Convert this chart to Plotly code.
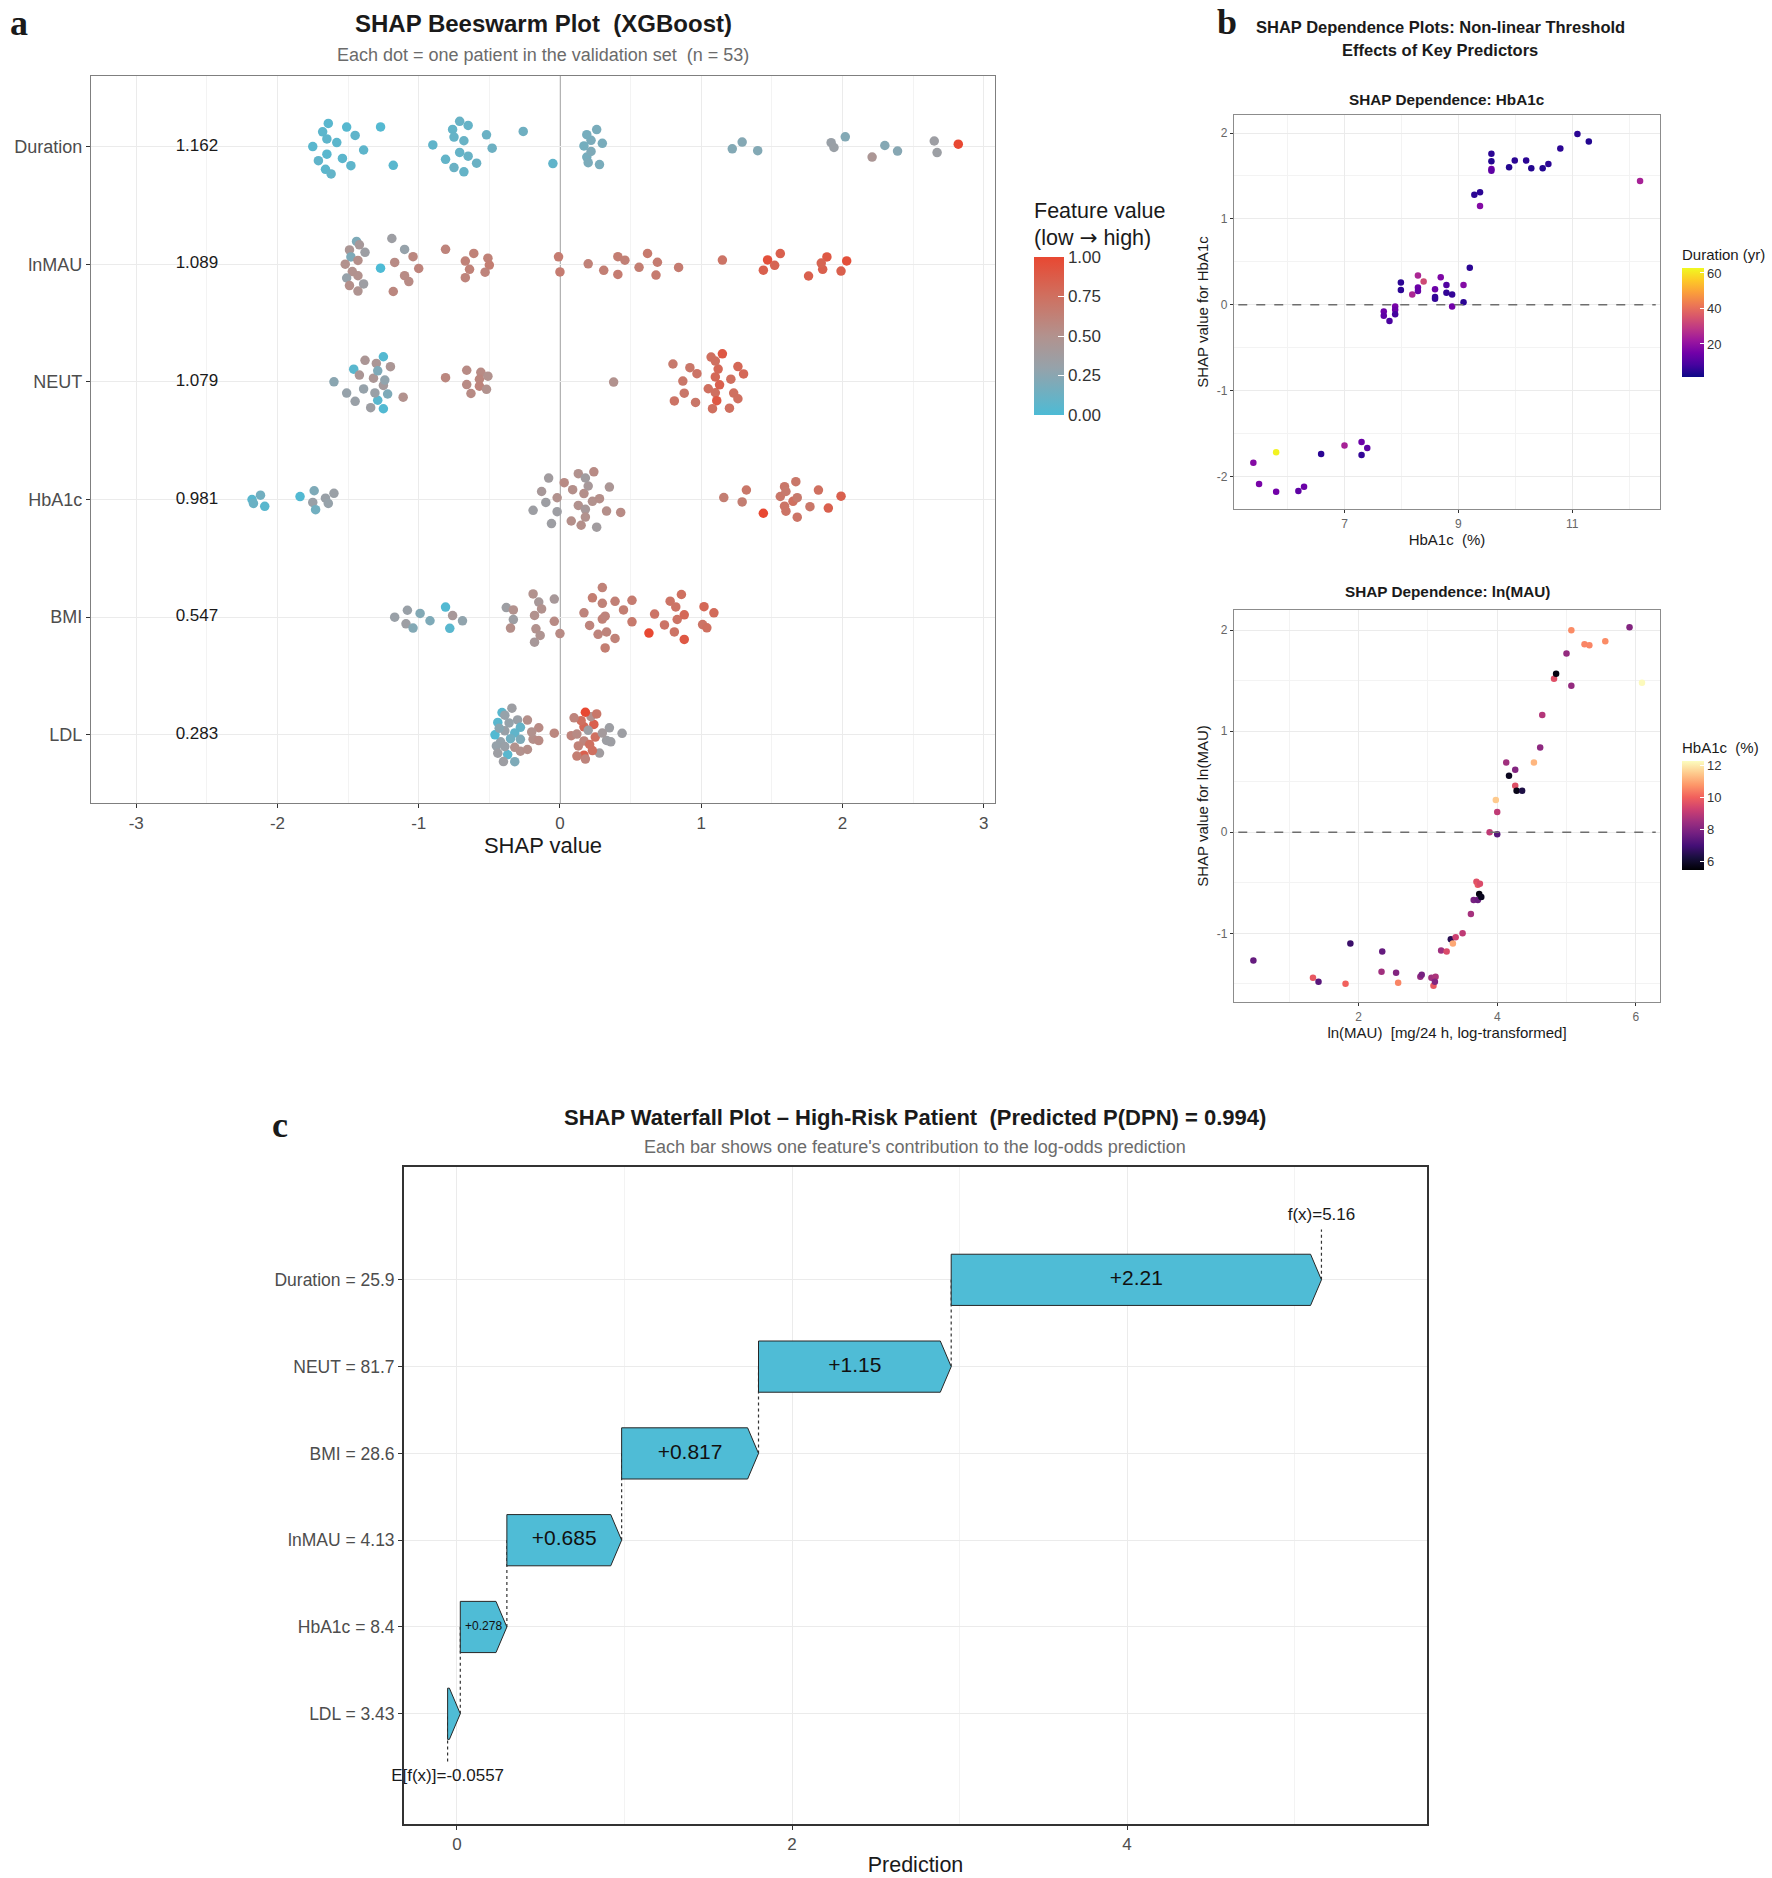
import numpy as np
import plotly.graph_objects as go

W, H = 1772, 1878

# ---------------- panel a : beeswarm ----------------
features = ["Duration", "lnMAU", "NEUT", "HbA1c", "BMI", "LDL"]
importance = [1.162, 1.089, 1.079, 0.981, 0.547, 0.283]
shap_ticks = [-3, -2, -1, 0, 1, 2, 3]
shap_ticktext = ["-3", "-2", "-1", "0", "1", "2", "3"]

shap_duration = [-1.64, -1.68, -1.51, -1.27, -1.65, -1.45, -1.58, -1.75, -1.39, -1.65, -1.54, -1.71, -1.48, -1.18, -1.66, -1.62,
                 -0.71, -0.65, -0.76, -0.75, -0.52, -0.90, -0.68, -0.48, -0.71, -0.65, -0.81, -0.59, -0.75, -0.68,
                 -0.26, -0.05,
                 0.26, 0.19, 0.22, 0.17, 0.30, 0.22, 0.19, 0.20, 0.28,
                 1.22, 1.29, 1.40,
                 1.92, 1.94, 2.02, 2.21, 2.30, 2.39, 2.65, 2.67, 2.82]
fv_duration = [0.05, 0.06, 0.04, 0.03, 0.07, 0.08, 0.06, 0.05, 0.07, 0.05, 0.06, 0.08, 0.07, 0.05, 0.06, 0.09,
               0.10, 0.11, 0.09, 0.12, 0.12, 0.08, 0.10, 0.13, 0.11, 0.10, 0.09, 0.12, 0.10, 0.11,
               0.14, 0.08,
               0.18, 0.17, 0.19, 0.16, 0.18, 0.20, 0.17, 0.19, 0.18,
               0.22, 0.23, 0.22,
               0.32, 0.33, 0.22, 0.45, 0.23, 0.24, 0.35, 0.34, 1.00]

shap_lnmau = [-1.44, -1.19, -1.49, -1.42, -1.38, -1.48, -1.43, -1.52, -1.27, -1.17, -1.10, -1.04, -1.00, -1.47, -1.43,
              -1.51, -1.10, -1.07, -1.49, -1.39, -1.43, -1.18,
              -0.81, -0.61, -0.67, -0.51, -0.50, -0.64, -0.53, -0.67,
              -0.01, 0.00,
              0.20, 0.31, 0.41, 0.46, 0.41, 0.56, 0.62, 0.69, 0.68, 0.84,
              1.15, 1.47, 1.56, 1.44, 1.52,
              1.76, 1.86, 1.89, 1.85, 1.99, 2.03]
fv_lnmau = [0.20, 0.35, 0.45, 0.42, 0.35, 0.20, 0.48, 0.50, 0.00, 0.55, 0.55, 0.58, 0.60, 0.50, 0.52,
            0.30, 0.30, 0.55, 0.52, 0.35, 0.50, 0.58,
            0.60, 0.62, 0.60, 0.62, 0.65, 0.62, 0.60, 0.62,
            0.66, 0.66,
            0.62, 0.64, 0.65, 0.63, 0.66, 0.65, 0.68, 0.66, 0.67, 0.66,
            0.72, 0.95, 0.85, 0.85, 0.82,
            0.85, 0.85, 0.90, 0.82, 0.85, 0.95]

shap_neut = [-1.60, -1.46, -1.38, -1.30, -1.25, -1.20, -1.42, -1.29, -1.32, -1.25, -1.51, -1.39, -1.31, -1.22, -1.45,
             -1.29, -1.34, -1.25, -1.11, -1.24,
             -0.81, -0.66, -0.56, -0.57, -0.51, -0.66, -0.57, -0.52, -0.63,
             0.38,
             0.80, 0.92, 0.97, 0.87, 0.88, 0.81, 0.96, 1.05, 1.07, 1.10, 1.15, 1.12, 1.10, 1.13, 1.10, 1.11,
             1.08, 1.21, 1.26, 1.30, 1.23, 1.26, 1.20]
fv_neut = [0.25, 0.05, 0.45, 0.45, 0.40, 0.45, 0.45, 0.05, 0.45, 0.03, 0.30, 0.30, 0.32, 0.20, 0.32,
           0.20, 0.35, 0.02, 0.50, 0.28,
           0.58, 0.55, 0.55, 0.58, 0.50, 0.55, 0.60, 0.50, 0.55,
           0.50,
           0.68, 0.70, 0.72, 0.70, 0.70, 0.72, 0.70, 0.75, 0.75, 0.80, 0.90, 0.80, 0.75, 0.85, 0.75, 0.90,
           0.75, 0.75, 0.80, 0.80, 0.75, 0.75, 0.75]

shap_hba1c = [-2.18, -2.12, -2.17, -2.09,
              -1.84, -1.74, -1.75, -1.66, -1.60, -1.64, -1.73,
              -0.08, -0.13, -0.19, -0.10, -0.06, -0.02, -0.02, 0.03, 0.09, 0.08, 0.13, 0.18, 0.24, 0.17, 0.20,
              0.13, 0.18, 0.18, 0.15, 0.23, 0.28, 0.33, 0.35, 0.26, 0.43,
              1.16, 1.29, 1.32, 1.44, 1.59, 1.60, 1.56, 1.59, 1.60, 1.65, 1.68, 1.67, 1.68, 1.77, 1.83, 1.90, 1.99]
fv_hba1c = [0.05, 0.15, 0.12, 0.05,
            0.02, 0.20, 0.32, 0.32, 0.33, 0.30, 0.15,
            0.38, 0.42, 0.35, 0.35, 0.35, 0.50, 0.35, 0.55, 0.52, 0.52, 0.50, 0.42, 0.55, 0.52, 0.42,
            0.50, 0.38, 0.50, 0.52, 0.50, 0.52, 0.52, 0.45, 0.38, 0.55,
            0.65, 0.65, 0.70, 1.00, 0.72, 0.72, 0.70, 0.70, 0.68, 0.75, 0.72, 0.70, 0.68, 0.70, 0.75, 0.85, 0.85]

shap_bmi = [-1.17, -1.08, -1.09, -1.04, -0.99, -0.92, -0.81, -0.78, -0.76, -0.69,
            -0.38, -0.33, -0.33, -0.35, -0.19, -0.15, -0.13, -0.18, -0.17, -0.14, -0.18, -0.04, -0.04, 0.00,
            0.30, 0.23, 0.30, 0.39, 0.51, 0.17, 0.32, 0.30, 0.45, 0.51, 0.21, 0.27, 0.33, 0.39, 0.32,
            0.86, 0.78, 0.82, 0.67, 0.88, 0.83, 0.74, 0.81, 0.88, 0.63, 1.02, 1.09, 1.01, 1.04]
fv_bmi = [0.32, 0.32, 0.35, 0.22, 0.22, 0.20, 0.02, 0.05, 0.42, 0.28,
          0.35, 0.50, 0.35, 0.52, 0.50, 0.42, 0.50, 0.42, 0.50, 0.48, 0.50, 0.55, 0.42, 0.55,
          0.62, 0.65, 0.62, 0.63, 0.68, 0.60, 0.65, 0.62, 0.65, 0.66, 0.60, 0.60, 0.60, 0.62, 0.60,
          0.75, 0.72, 0.72, 0.72, 0.90, 0.72, 0.72, 0.72, 0.80, 1.00, 0.80, 0.78, 0.72, 0.75]

shap_ldl = [-0.37, -0.42, -0.44, -0.39, -0.32, -0.28, -0.23, -0.15, -0.19, -0.46, -0.41, -0.34, -0.30, -0.15,
            -0.28, -0.23, -0.20, -0.45, -0.39, -0.32, -0.44, -0.39, -0.28, -0.32, -0.40, -0.36, -0.43, -0.35,
            -0.04, 0.08, 0.17, 0.24, 0.12, 0.22, 0.17, 0.20, 0.28, 0.35, 0.44, 0.33, 0.36, 0.17, 0.23, 0.12,
            0.13, 0.21, 0.25, 0.18, 0.15, 0.18, 0.10, 0.26, 0.30]
fv_ldl = [0.05, 0.30, 0.05, 0.32, 0.20, 0.50, 0.52, 0.55, 0.52, 0.02, 0.05, 0.35, 0.32, 0.55,
          0.10, 0.52, 0.50, 0.30, 0.32, 0.08, 0.35, 0.30, 0.20, 0.50, 0.35, 0.30, 0.25, 0.15,
          0.58, 0.60, 0.85, 0.85, 0.65, 0.50, 0.80, 0.35, 0.38, 0.35, 0.35, 0.35, 0.35, 0.60, 0.75, 0.55,
          0.62, 0.75, 0.75, 1.00, 0.75, 0.60, 0.60, 0.70, 0.40]

shap_rows = [shap_duration, shap_lnmau, shap_neut, shap_hba1c, shap_bmi, shap_ldl]
fv_rows = [fv_duration, fv_lnmau, fv_neut, fv_hba1c, fv_bmi, fv_ldl]
fv_ticks = [0, 0.25, 0.5, 0.75, 1.0]

# ---------------- panel b : dependence plots ----------------
hba1c_x = [5.40, 5.50, 5.80, 5.80, 6.19, 6.29, 6.59, 7.00, 7.30, 7.30, 7.40, 7.69, 7.69, 7.79, 7.89, 7.89, 7.89,
           7.99, 7.99, 8.19, 8.29, 8.29, 8.29, 8.39, 8.59, 8.59, 8.59, 8.69, 8.79, 8.79, 8.89, 8.89, 9.09, 9.09,
           9.20, 9.28, 9.38, 9.38, 9.58, 9.58, 9.58, 9.58, 9.89, 9.99, 10.19, 10.28, 10.48, 10.58, 10.79, 11.09,
           11.29, 12.19]
hba1c_shap = [-1.84, -2.09, -1.72, -2.18, -2.17, -2.12, -1.74, -1.64, -1.60, -1.75, -1.67, -0.08, -0.13, -0.19,
              -0.02, -0.06, -0.11, 0.26, 0.17, 0.12, 0.34, 0.20, 0.16, 0.27, 0.18, 0.09, 0.07, 0.32, 0.23, 0.14,
              0.12, -0.02, 0.23, 0.03, 0.43, 1.28, 1.31, 1.15, 1.76, 1.67, 1.58, 1.56, 1.60, 1.68, 1.68, 1.59,
              1.59, 1.64, 1.82, 1.99, 1.90, 1.44]
hba1c_duration = [18, 16, 62, 15, 12, 14, 5, 24, 14, 6, 12, 14, 12, 9, 16, 14, 8,
                  5, 5, 25, 25, 14, 13, 33, 14, 6, 6, 17, 10, 6, 6, 15, 18, 5,
                  5, 5, 5, 18, 5, 4, 15, 12, 4, 5, 5, 4, 4, 5, 5, 5,
                  4, 24]
duration_ticks = [20, 40, 60]
shap_b1_ticks = [-2, -1, 0, 1, 2]
shap_b1_ticktext = ["-2", "-1", "0", "1", "2"]

lnmau_x = [0.48, 1.34, 1.42, 1.81, 1.88, 2.33, 2.34, 2.54, 2.57, 2.89, 2.91, 3.05, 3.11, 3.08, 3.10, 3.19, 3.27,
           3.33, 3.36, 3.40, 3.50, 3.62, 3.66, 3.70, 3.72, 3.75, 3.72, 3.74, 3.77, 3.89, 3.98, 4.00, 4.00, 4.13,
           4.17, 4.26, 4.26, 4.28, 4.36, 4.53, 4.62, 4.65, 4.82, 4.85, 5.00, 5.07, 5.07, 5.26, 5.33, 5.56, 5.91,
           6.09]
lnmau_shap = [-1.27, -1.44, -1.48, -1.50, -1.10, -1.38, -1.18, -1.39, -1.49, -1.43, -1.41, -1.44, -1.43, -1.52,
              -1.48, -1.17, -1.18, -1.06, -1.10, -1.04, -1.00, -0.81, -0.67, -0.49, -0.52, -0.51, -0.67, -0.61,
              -0.64, 0.00, 0.32, 0.20, -0.02, 0.69, 0.56, 0.46, 0.62, 0.41, 0.41, 0.69, 0.84, 1.16, 1.52, 1.57,
              1.77, 1.45, 2.00, 1.86, 1.85, 1.89, 2.03, 1.48]
lnmau_hba1c = [7.5, 9.8, 7.3, 10.0, 6.8, 8.5, 7.5, 8.0, 10.5, 8.3, 7.8, 8.5, 8.7, 9.8, 8.0, 8.5, 9.5,
               6.5, 11.0, 9.2, 9.0, 8.6, 7.8, 9.6, 9.8, 9.5, 7.6, 5.6, 5.8, 9.0, 11.5, 9.0, 7.3, 8.5,
               5.8, 9.6, 8.0, 5.7, 6.3, 11.2, 8.2, 8.8, 9.6, 5.6, 8.3, 8.3, 10.6, 10.5, 10.5, 10.6, 8.0,
               12.2]
hba1c_ticks = [6, 8, 10, 12]
shap_b2_ticks = [-1, 0, 1, 2]
shap_b2_ticktext = ["-1", "0", "1", "2"]

# ---------------- panel c : waterfall ----------------
wf_labels = ["Duration = 25.9", "NEUT = 81.7", "BMI = 28.6", "lnMAU = 4.13", "HbA1c = 8.4", "LDL = 3.43"]
wf_contrib = [2.21, 1.15, 0.817, 0.685, 0.278, 0.0757]
wf_text = ["+2.21", "+1.15", "+0.817", "+0.685", "+0.278", ""]
base_value = -0.0557
fx_value = 5.16


def vdc(n):
    out = []
    for i in range(1, n + 1):
        v, denom, k = 0.0, 1.0, i
        while k:
            denom *= 2
            k, r = divmod(k, 2)
            v += r / denom
        out.append(v)
    return np.array(out)


def quasirandom(x, width=0.27):
    # quasirandom (van der Corput) offsets scaled by local density
    x = np.asarray(x, float)
    n = len(x)
    q75, q25 = np.percentile(x, [75, 25])
    bw = 0.5 * 0.9 * min(x.std(ddof=1), (q75 - q25) / 1.34) * n ** -0.2
    d = np.exp(-0.5 * ((x[:, None] - x[None, :]) / bw) ** 2).sum(1)
    d = d / d.max()
    rank = np.argsort(np.argsort(x, kind="stable"), kind="stable")
    return (vdc(n)[rank] - 0.5) * 2 * width * d


def px(v):
    return v / W


def py(v):
    return 1 - v / H


GRID = "#EBEBEB"
MINOR = "#F3F3F3"
TICKC = "#4D4D4D"
FONT = "Liberation Sans, Arial, sans-serif"

fig = go.Figure()

# beeswarm points
bx, by, bc = [], [], []
for i, (sv, fv) in enumerate(zip(shap_rows, fv_rows)):
    row = len(features) - 1 - i
    off = quasirandom(sv)
    bx += list(sv)
    by += list(row + off)
    bc += list(fv)

bee_scale = [[0.0, "rgb(77,187,213)"], [0.3, "rgb(150,162,170)"], [0.5, "rgb(178,146,142)"],
             [0.75, "rgb(207,112,96)"], [1.0, "rgb(232,72,50)"]]
fig.add_trace(go.Scatter(
    x=bx, y=by, mode="markers", xaxis="x", yaxis="y", showlegend=False, hoverinfo="skip",
    marker=dict(size=9.5, color=bc, colorscale=bee_scale, cmin=0, cmax=1,
                colorbar=dict(x=px(1034), xanchor="left", y=py(257), yanchor="top",
                              lenmode="pixels", len=158, thickness=30, xpad=0, ypad=0,
                              outlinewidth=0, ticks="inside", ticklen=6, tickcolor="white",
                              tickvals=fv_ticks, tickformat=".2f",
                              tickfont=dict(size=17, color="#333333"))),
))

fig.add_trace(go.Scatter(
    x=[-2.57] * len(features), y=[len(features) - 1 - i for i in range(len(features))],
    text=[f"{v:.3f}" for v in importance], mode="text", xaxis="x", yaxis="y",
    textfont=dict(size=17, color="#1a1a1a"), showlegend=False, hoverinfo="skip",
))

# dependence plots
fig.add_trace(go.Scatter(
    x=hba1c_x, y=hba1c_shap, mode="markers", xaxis="x2", yaxis="y2", showlegend=False, hoverinfo="skip",
    marker=dict(size=6.5, color=hba1c_duration, colorscale="Plasma", cmin=1.4, cmax=62.8,
                colorbar=dict(x=px(1682), xanchor="left", y=py(268), yanchor="top",
                              lenmode="pixels", len=109, thickness=22, xpad=0, ypad=0,
                              outlinewidth=0, ticks="inside", ticklen=4, tickcolor="white",
                              tickvals=duration_ticks, tickfont=dict(size=13, color="#333333"))),
))
fig.add_trace(go.Scatter(
    x=lnmau_x, y=lnmau_shap, mode="markers", xaxis="x3", yaxis="y3", showlegend=False, hoverinfo="skip",
    marker=dict(size=6.5, color=lnmau_hba1c, colorscale="Magma", cmin=5.44, cmax=12.25,
                colorbar=dict(x=px(1682), xanchor="left", y=py(761), yanchor="top",
                              lenmode="pixels", len=109, thickness=22, xpad=0, ypad=0,
                              outlinewidth=0, ticks="inside", ticklen=4, tickcolor="white",
                              tickvals=hba1c_ticks, tickfont=dict(size=13, color="#333333"))),
))

# waterfall: rows from bottom (LDL) to top (Duration)
n = len(wf_labels)
contrib_up = wf_contrib[::-1]
text_up = wf_text[::-1]
cum = [base_value]
for c in contrib_up:
    cum.append(cum[-1] + c)

# connectors (under bars)
dash_style = "3px,3px"
fig.add_trace(go.Scatter(x=[base_value, base_value], y=[-0.55, 0], mode="lines", xaxis="x4", yaxis="y4",
                         line=dict(color="#333333", width=1.2, dash=dash_style), showlegend=False, hoverinfo="skip"))
for k in range(n - 1):
    fig.add_trace(go.Scatter(x=[cum[k + 1], cum[k + 1]], y=[k, k + 1], mode="lines", xaxis="x4", yaxis="y4",
                             line=dict(color="#333333", width=1.2, dash=dash_style),
                             showlegend=False, hoverinfo="skip"))
fig.add_trace(go.Scatter(x=[fx_value, fx_value], y=[n - 1, n - 0.42], mode="lines", xaxis="x4", yaxis="y4",
                         line=dict(color="#333333", width=1.2, dash=dash_style), showlegend=False, hoverinfo="skip"))

hh = 0.295
for k in range(n):
    s, e = cum[k], cum[k + 1]
    head = min(0.065, e - s)
    fig.add_trace(go.Scatter(
        x=[s, e - head, e, e - head, s, s], y=[k - hh, k - hh, k, k + hh, k + hh, k - hh],
        mode="lines", fill="toself", fillcolor="#4FBCD6", line=dict(color="#262626", width=1),
        xaxis="x4", yaxis="y4", showlegend=False, hoverinfo="skip"))
    if text_up[k]:
        big = (e - s) > 0.4
        fig.add_trace(go.Scatter(
            x=[(s + e) / 2], y=[k], text=[text_up[k]], mode="text", xaxis="x4", yaxis="y4",
            textfont=dict(size=21 if big else 12, color="#111111"), showlegend=False, hoverinfo="skip"))

fig.add_trace(go.Scatter(
    x=[fx_value, base_value], y=[n - 0.26, -0.73], text=[f"f(x)={fx_value}", f"E[f(x)]={base_value}"],
    mode="text", xaxis="x4", yaxis="y4", textfont=dict(size=17, color="#1a1a1a"), cliponaxis=False,
    showlegend=False, hoverinfo="skip"))


def frame(color):
    return dict(showline=True, mirror=True, linecolor=color, linewidth=1.3, zeroline=False,
                gridcolor=GRID, gridwidth=1.1, ticks="outside", tickcolor="#333333", ticklen=4,
                tickfont=dict(size=17, color=TICKC, family=FONT))


# axes
xa = frame("#7F7F7F")
xa.update(domain=[px(91), px(995)], range=[-3.32, 3.08], tickmode="array", tickvals=shap_ticks,
          ticktext=shap_ticktext, anchor="y",
          minor=dict(tick0=0, dtick=0.5, showgrid=True, gridcolor=MINOR, ticks=""),
          title=dict(text="SHAP value", font=dict(size=22, color="#1a1a1a"), standoff=4))
ya = frame("#7F7F7F")
ya.update(domain=[py(803), py(76)], range=[-0.58, 5.6], anchor="x",
          tickmode="array", tickvals=list(range(len(features))), ticktext=features[::-1],
          tickfont=dict(size=18, color=TICKC, family=FONT))

small_tick = dict(size=12, color="#666666", family=FONT)
xb1 = frame("#8C8C8C")
xb1.update(domain=[px(1234), px(1660)], range=[5.06, 12.54], tick0=7, dtick=2, anchor="y2", ticklen=3,
           tickfont=small_tick,
           minor=dict(tick0=6, dtick=2, showgrid=True, gridcolor=MINOR, ticks=""),
           title=dict(text="HbA1c\u00a0 (%)", font=dict(size=15, color="#1a1a1a"), standoff=4))
yb1 = frame("#8C8C8C")
yb1.update(domain=[py(509), py(115)], range=[-2.38, 2.21], tickmode="array", tickvals=shap_b1_ticks,
           ticktext=shap_b1_ticktext, anchor="x2", ticklen=3, tickfont=small_tick,
           minor=dict(tick0=0.5, dtick=1, showgrid=True, gridcolor=MINOR, ticks=""),
           title=dict(text="SHAP value for HbA1c", font=dict(size=15, color="#1a1a1a"), standoff=4))
xb2 = frame("#8C8C8C")
xb2.update(domain=[px(1234), px(1660)], range=[0.2, 6.35], tick0=0, dtick=2, anchor="y3", ticklen=3,
           tickfont=small_tick,
           minor=dict(tick0=1, dtick=2, showgrid=True, gridcolor=MINOR, ticks=""),
           title=dict(text="ln(MAU)\u00a0 [mg/24 h, log-transformed]", font=dict(size=15, color="#1a1a1a"),
                      standoff=4))
yb2 = frame("#8C8C8C")
yb2.update(domain=[py(1002), py(610)], range=[-1.68, 2.2], tickmode="array", tickvals=shap_b2_ticks,
           ticktext=shap_b2_ticktext, anchor="x3", ticklen=3, tickfont=small_tick,
           minor=dict(tick0=0.5, dtick=1, showgrid=True, gridcolor=MINOR, ticks=""),
           title=dict(text="SHAP value for ln(MAU)", font=dict(size=15, color="#1a1a1a"), standoff=4))

xc = frame("#333333")
xc.update(domain=[px(404), px(1427)], range=[-0.316, 5.79], tick0=0, dtick=2, anchor="y4", linewidth=1.8,
          minor=dict(tick0=1, dtick=2, showgrid=True, gridcolor=MINOR, ticks=""),
          title=dict(text="Prediction", font=dict(size=21.5, color="#1a1a1a"), standoff=4))
yc = frame("#333333")
yc.update(domain=[py(1824), py(1167)], range=[-1.27, 6.3], anchor="x4", linewidth=1.8,
          tickmode="array", tickvals=list(range(n)), ticktext=wf_labels[::-1],
          tickfont=dict(size=17.5, color=TICKC, family=FONT))

fig.update_layout(
    width=W, height=H, autosize=False, margin=dict(l=0, r=0, t=0, b=0),
    paper_bgcolor="white", plot_bgcolor="white", font=dict(family=FONT, color="#1a1a1a"),
    xaxis=xa, yaxis=ya, xaxis2=xb1, yaxis2=yb1, xaxis3=xb2, yaxis3=yb2, xaxis4=xc, yaxis4=yc,
)

# zero lines
fig.add_shape(type="line", xref="x", yref="y domain", x0=0, x1=0, y0=0, y1=1,
              line=dict(color="#9A9A9A", width=1.6), layer="below")
for ax in ("2", "3"):
    fig.add_shape(type="line", xref=f"x{ax} domain", yref=f"y{ax}", x0=0.01, x1=0.99, y0=0, y1=0,
                  line=dict(color="#6E6E6E", width=1.4, dash="dash"))


def note(text, x, y, size, bold=False, color="#1a1a1a", family=FONT, xanchor="center", yanchor="middle"):
    fig.add_annotation(text=f"<b>{text}</b>" if bold else text, x=px(x), y=py(y), xref="paper", yref="paper",
                       showarrow=False, xanchor=xanchor, yanchor=yanchor,
                       font=dict(size=size, color=color, family=family))


SERIF = "Liberation Serif, Times New Roman, serif"
note("a", 8, 1, 36, bold=True, family=SERIF, xanchor="left", yanchor="top")
note("b", 1215, 0, 36, bold=True, family=SERIF, xanchor="left", yanchor="top")
note("c", 270, 1103, 36, bold=True, family=SERIF, xanchor="left", yanchor="top")

note("SHAP Beeswarm Plot\u00a0 (XGBoost)", 543, 24, 24, bold=True)
note("Each dot = one patient in the validation set\u00a0 (n = 53)", 543, 55, 18, color="#6B6B6B")

# colorbar titles
note("Feature value", 1032, 211, 21.5, xanchor="left")
note("(low <span style='font-family:DejaVu Sans'>\u2192</span> high)", 1032, 237, 21.5, xanchor="left")
note("Duration (yr)", 1680, 254, 15, xanchor="left")
note("HbA1c\u00a0 (%)", 1680, 747, 15, xanchor="left")

note("SHAP Dependence Plots: Non-linear Threshold", 1440, 27, 16.5, bold=True)
note("Effects of Key Predictors", 1440, 50, 16.5, bold=True)
note("SHAP Dependence: HbA1c", 1447, 100, 15.3, bold=True)
note("SHAP Dependence: ln(MAU)", 1447, 592, 15.3, bold=True)

note("SHAP Waterfall Plot \u2013 High-Risk Patient\u00a0 (Predicted P(DPN) = 0.994)", 915, 1117, 22, bold=True)
note("Each bar shows one feature's contribution to the log-odds prediction", 915, 1147, 18, color="#6B6B6B")

fig.write_html("out.html", config={"displayModeBar": False},
               post_script="document.body.style.margin='0px';")
